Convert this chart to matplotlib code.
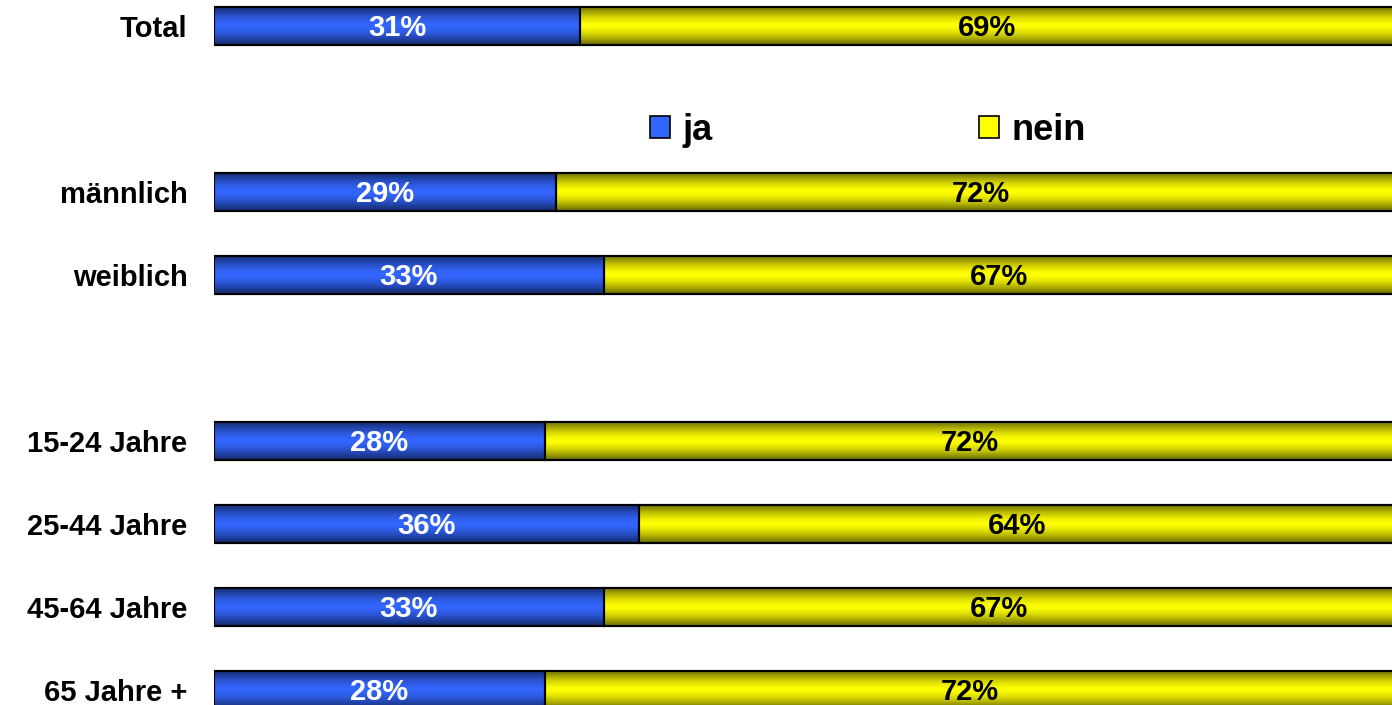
import matplotlib
matplotlib.use("Agg")
import matplotlib.pyplot as plt
import matplotlib.transforms as mtransforms
import numpy as np
from matplotlib.patches import Patch

plt.rcParams['font.family'] = ['Liberation Sans', 'DejaVu Sans']

# data
categories = ["Total", "männlich", "weiblich", "15-24 Jahre", "25-44 Jahre", "45-64 Jahre", "65 Jahre +"]
rows = [0, 2, 3, 5, 6, 7, 8]
ja = [31, 29, 33, 28, 36, 33, 28]
nein = [69, 72, 67, 72, 64, 67, 72]
series_names = ["ja", "nein"]

blue = np.array([51, 102, 255]) / 255.0
yellow = np.array([255, 255, 0]) / 255.0


def gradient(base, n=60):
    # dark at top and bottom, bright in the middle
    t = np.linspace(0, 1, n)
    f = 1 - 0.6 * np.abs(2 * t - 1) ** 1.5
    img = np.clip(base[None, :] * f[:, None], 0, 1)
    return img[:, None, :]


fig = plt.figure(figsize=(13.92, 7.05), dpi=100)
ax = fig.add_axes([214 / 1392, 0, 1 - 214 / 1392, 1])

h = 0.46
bars_ja = ax.barh(rows, ja, height=h, color=blue, edgecolor="black", linewidth=1.5, zorder=2)
bars_nein = ax.barh(rows, nein, left=ja, height=h, color=yellow, edgecolor="black", linewidth=1.5, zorder=2)

# shaded fill like the original
for bars, base in ((bars_ja, blue), (bars_nein, yellow)):
    g = gradient(base)
    for p in bars:
        x0, y0 = p.get_x(), p.get_y()
        im = ax.imshow(g, extent=[x0, x0 + p.get_width(), y0 + p.get_height(), y0],
                       aspect="auto", interpolation="bilinear", zorder=2.5)
        im.set_clip_path(p)
    for p in bars:
        ax.add_patch(plt.Rectangle((p.get_x(), p.get_y()), p.get_width(), p.get_height(),
                                   fill=False, edgecolor="black", linewidth=1.5, zorder=3))

down = mtransforms.ScaledTranslation(0, -2 / 100, fig.dpi_scale_trans)
for r, a, b in zip(rows, ja, nein):
    ax.text(a / 2, r, f"{a}%", ha="center", va="center", color="white",
            fontsize=21, fontweight="bold", zorder=4, transform=ax.transData + down)
    ax.text(a + b / 2, r, f"{b}%", ha="center", va="center", color="black",
            fontsize=21, fontweight="bold", zorder=4, transform=ax.transData + down)

ax.set_xlim(0, 99.8)
ax.set_ylim((705 - 26) / 83, -26 / 83)
ax.set_yticks(rows)
ax.set_yticklabels(categories, fontsize=21, fontweight="bold")
ax.tick_params(axis="y", length=0, pad=19)
ax.set_xticks([])
for s in ax.spines.values():
    s.set_visible(False)

handles = [Patch(facecolor=blue, edgecolor="black", linewidth=1.2),
           Patch(facecolor=yellow, edgecolor="black", linewidth=1.2)]
fig.legend(handles, series_names, loc="center", bbox_to_anchor=(868 / 1392, 1 - 130 / 705),
           ncol=2, frameon=False, prop={"size": 26, "weight": "bold"},
           handlelength=0.55, handleheight=0.55, handletextpad=0.35, columnspacing=7.4)

fig.savefig("out.png", dpi=100)
